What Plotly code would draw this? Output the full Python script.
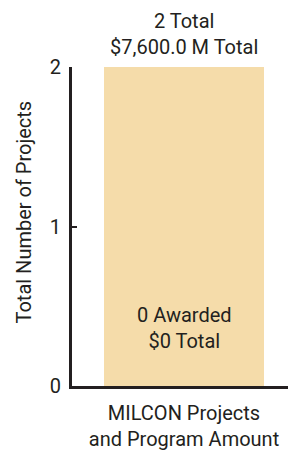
import plotly.graph_objects as go

categories = ["MILCON Projects<br>and Program Amount"]
total_projects = [2]
awarded_projects = [0]
total_amount_m = [7600.0]
awarded_amount = [0]
y_ticks = [0, 1, 2]
y_title = "Total Number of Projects"

FONT = "Roboto, Liberation Sans Narrow, sans-serif"
TXT = "#231f20"

fig = go.Figure()
fig.add_trace(go.Bar(
    x=categories, y=total_projects, width=0.71,
    marker=dict(color="#f5dcaa", line=dict(width=0)),
    hoverinfo="skip", showlegend=False,
))

for c, t, a, am, aa in zip(categories, total_projects, awarded_projects, total_amount_m, awarded_amount):
    fig.add_annotation(x=c, y=t, text=f"{t} Total<br>${am:,.1f} M Total",
                       showarrow=False, yanchor="bottom", yshift=6,
                       font=dict(family=FONT, size=20, color=TXT))
    fig.add_annotation(x=c, y=a, text=f"{a} Awarded<br>${aa:,.0f} Total",
                       showarrow=False, yanchor="bottom", yshift=31,
                       font=dict(family=FONT, size=20, color=TXT))

fig.add_annotation(xref="paper", yref="paper", x=0, y=0.5, xanchor="center", yanchor="middle",
                   xshift=-49, yshift=14, textangle=-90, text=y_title, showarrow=False,
                   font=dict(family=FONT, size=20, color=TXT))

fig.update_layout(
    width=288, height=446,
    margin=dict(l=64, r=0, t=59, b=68),
    paper_bgcolor="white", plot_bgcolor="white",
    font=dict(family=FONT, size=20, color=TXT),
    bargap=0,
)
fig.update_xaxes(showline=True, linecolor="#231f20", linewidth=3,
                 showgrid=False, ticks="", tickfont=dict(size=20),
                 ticklabelstandoff=7, automargin=False)
fig.update_yaxes(range=[0, 2], tickvals=y_ticks, showline=True, linecolor="#231f20",
                 linewidth=3, ticks="inside", ticklen=5, tickwidth=2, tickcolor="#231f20",
                 showgrid=False, zeroline=False, tickfont=dict(size=20),
                 ticklabelstandoff=4, automargin=False)

fig.write_html("out.html")
